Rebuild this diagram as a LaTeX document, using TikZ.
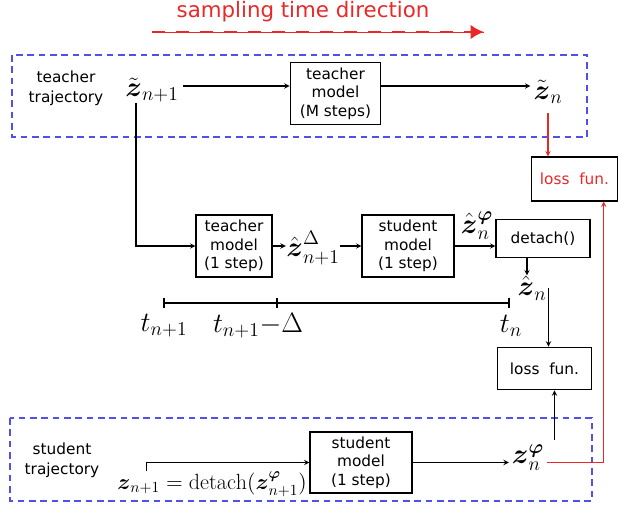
\RequirePackage{fix-cm}
\documentclass[tikz,border=0pt]{standalone}
\usepackage{amsmath}
\usepackage{amssymb}
\usepackage{fontspec}
\setsansfont{DejaVu Sans}
\usepackage{tikz}
\usetikzlibrary{arrows.meta, positioning}

\definecolor{trajblue}{RGB}{80,80,235}
\definecolor{lossred}{RGB}{235,40,40}

\begin{document}
\begin{tikzpicture}[
  x=0.75pt, y=-0.75pt,
  block/.style={draw, align=center, inner sep=1pt,
    font=\sffamily\fontsize{11.5}{14}\selectfont},
  lbl/.style={align=center, font=\sffamily\fontsize{11.5}{15}\selectfont},
  math/.style={inner sep=0pt, font=\fontsize{21}{24}\selectfont},
  traj/.style={draw=trajblue, line width=1pt, dash pattern=on 5pt off 3.5pt},
  line width=0.8pt,
  >=stealth
  ]

  \useasboundingbox (0,0) rectangle (618,507);

  % sampling direction
  \node[font=\sffamily\fontsize{16}{18}\selectfont, text=lossred] (title) at (303,12) {sampling time direction};
  \coordinate (dirA) at (152,32);
  \coordinate (dirB) at (484,32);
  \draw[lossred, line width=0.6pt] (dirA) -- (dirB);
  \draw[lossred, line width=2.2pt, dash pattern=on 10pt off 8pt,
    -{Latex[length=10pt, width=11pt]}] (dirA) -- (dirB);

  % trajectories
  \draw[traj] (12,55) rectangle (587,137);
  \draw[traj] (10,418) rectangle (592,501);
  \node[lbl] (tlab) at (66,88) {teacher\\trajectory};
  \node[lbl] (slab) at (62,460) {student\\trajectory};

  % teacher trajectory
  \node[math] (zt1) at (152,90) {$\tilde{\boldsymbol{z}}_{n+1}$};
  \node[block, minimum width=68pt, minimum height=47pt] (tM) at (335.5,93.5) {teacher\\model\\(M steps)};
  \node[math] (ztn) at (548,92) {$\tilde{\boldsymbol{z}}_{n}$};
  \draw[->] ([xshift=3pt]zt1.east |- 0,86) -- (tM.west |- 0,86);
  \draw[->] (tM.east |- 0,86) -- ([xshift=-2pt]ztn.west |- 0,86);

  % one step branch
  \node[block, minimum width=57pt, minimum height=46.5pt] (t1) at (234,246) {teacher\\model\\(1 step)};
  \node[math] (zhd) at (313,248) {$\hat{\boldsymbol{z}}^{\Delta}_{n+1}$};
  \node[block, minimum width=69pt, minimum height=46.5pt] (sM) at (408,246) {student\\model\\(1 step)};
  \node[math] (zhphi) at (477,226) {$\hat{\boldsymbol{z}}^{\boldsymbol{\varphi}}_{n}$};
  \node[block, minimum width=70.5pt, minimum height=29pt] (det) at (543,238.5) {detach()};
  \node[math] (zhn) at (532,288) {$\hat{\boldsymbol{z}}_{n}$};

  \draw[->] ([xshift=-12pt]zt1.south) |- (t1.west);
  \draw[->] (t1.east) -- (zhd.west |- t1.east);
  \draw[->] (zhd.east |- sM.west) -- (sM.west);
  \draw[->] (sM.east) -- (sM.east -| det.west);
  \draw[->] ([xshift=-12pt]det.south) -- ([xshift=-12pt]det.south |- zhn.north);

  % time axis
  \coordinate (tA) at (164,303);
  \coordinate (tB) at (277,303);
  \coordinate (tC) at (509,303);
  \draw (tA) -- (tC);
  \foreach \p in {tA,tB,tC}
    \draw ([yshift=4pt]\p) -- ([yshift=-4pt]\p);
  \node[math] (tlA) at (164,326) {$t_{n+1}$};
  \node[math] (tlB) at (258,326) {$t_{n+1}{-}\Delta$};
  \node[math] (tlC) at (511,326) {$t_{n}$};

  % losses
  \node[block, minimum width=64pt, minimum height=33pt, text=lossred] (lossR) at (574.5,179) {loss~~fun.};
  \node[block, minimum width=71pt, minimum height=32pt] (lossB) at (544.5,368.5) {loss~~fun.};

  % student trajectory
  \node[block, minimum width=76.5pt, minimum height=45.75pt] (sB) at (361,462.5) {student\\model\\(1 step)};
  \node[math, font=\fontsize{16.5}{20}\selectfont] (zdet) at (212,484) {$\boldsymbol{z}_{n+1}=\mathrm{detach}(\boldsymbol{z}^{\boldsymbol{\varphi}}_{n+1})$};
  \node[math] (zphi) at (528,458) {$\boldsymbol{z}^{\boldsymbol{\varphi}}_{n}$};

  \draw[->] ([xshift=22pt]zdet.north west) |- (sB.west);
  \draw[->] (sB.east) -- ([xshift=-2pt]zphi.west |- sB.east);
  \draw[->] ([xshift=3pt]lossB.north |- zhn.east) -- ([xshift=3pt]lossB.north);
  \draw[->] ([xshift=7.5pt]lossB.south |- 0,440) -- ([xshift=7.5pt]lossB.south);

  % loss links
  \draw[lossred, ->] (lossR.north -| ztn.south) ++(0,-43) -- (ztn.south |- lossR.north);
  \draw[lossred, ->] ([xshift=2pt]zphi.east |- sB.east) -| ([xshift=-10.5pt]lossR.south east);

\end{tikzpicture}
\end{document}
